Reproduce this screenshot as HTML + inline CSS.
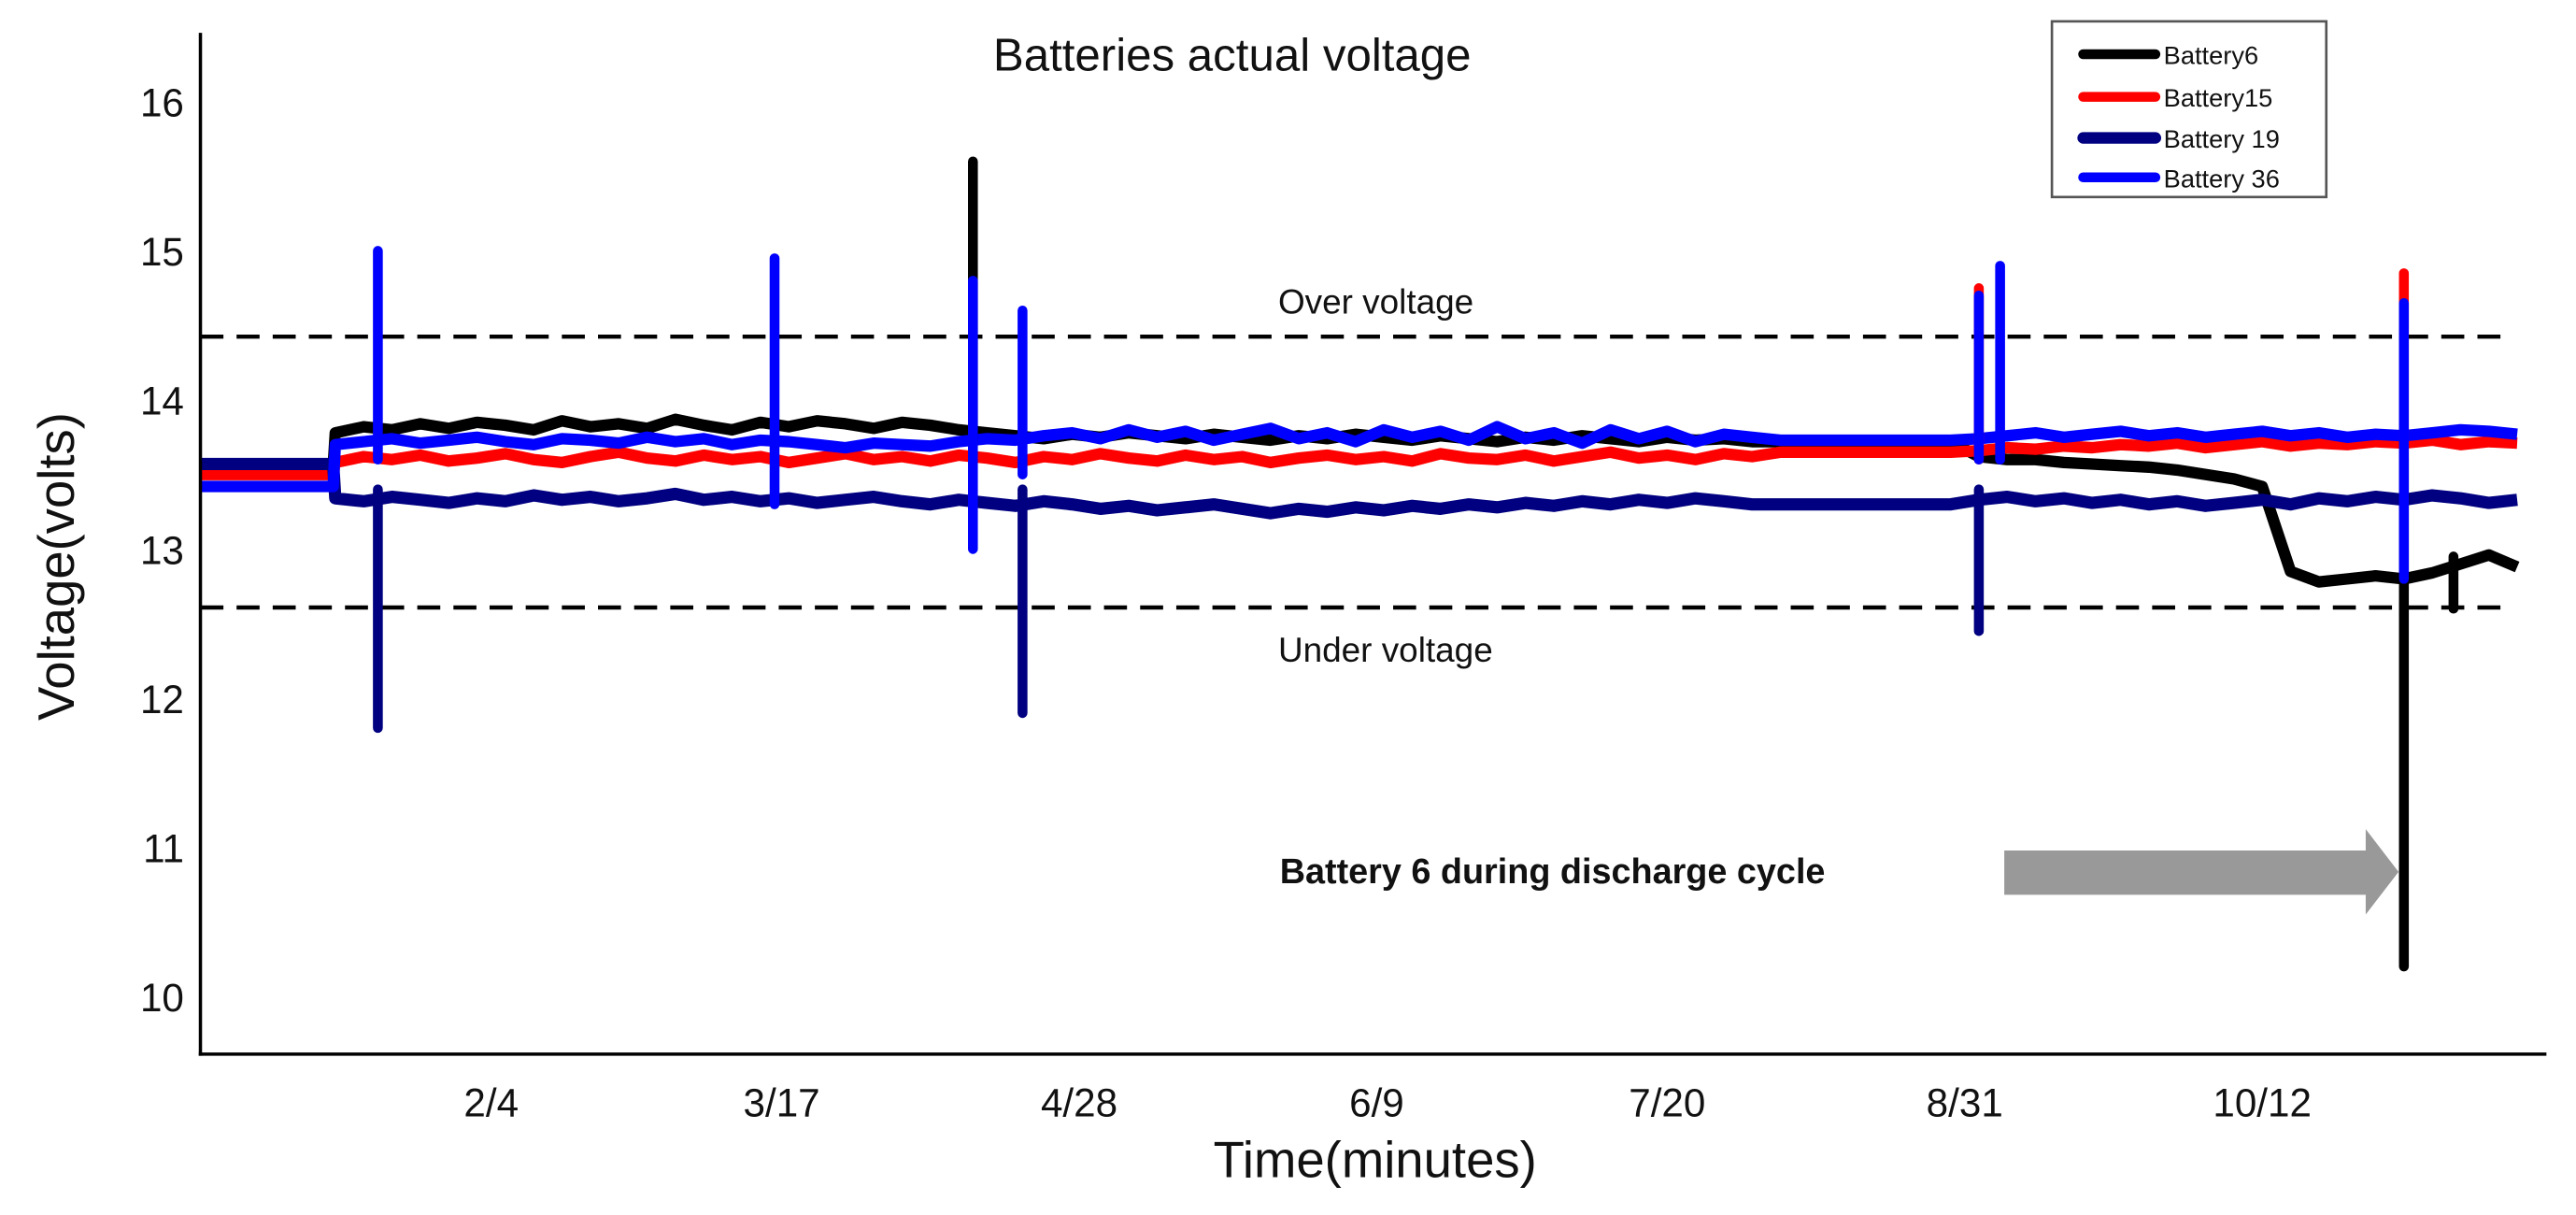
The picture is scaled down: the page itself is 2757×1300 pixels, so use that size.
<!DOCTYPE html>
<html><head><meta charset="utf-8"><style>
html,body{margin:0;padding:0;background:#fff;}
svg{display:block;}
text{font-family:"Liberation Sans",sans-serif;fill:#111;}
</style></head><body>
<svg id="chart" width="2757" height="1300" viewBox="0 0 1568 740" preserveAspectRatio="none" xmlns="http://www.w3.org/2000/svg">
<rect width="1568" height="740" fill="#fff"/>
<text x="750" y="43" font-size="28" text-anchor="middle">Batteries actual voltage</text>
<text transform="translate(45,345) rotate(-90)" font-size="31" text-anchor="middle">Voltage(volts)</text>
<text x="837" y="717" font-size="31" text-anchor="middle">Time(minutes)</text>
<g id="ticks"></g>
<line x1="122" y1="205" x2="1522" y2="205" stroke="#000" stroke-width="2.5" stroke-dasharray="14,8"/>
<line x1="122" y1="370" x2="1522" y2="370" stroke="#000" stroke-width="2.5" stroke-dasharray="14,8"/>
<text x="778" y="191" font-size="21">Over voltage</text>
<text x="778" y="403" font-size="21">Under voltage</text>
<g id="series"></g>
<line x1="122" y1="20" x2="122" y2="643" stroke="#000" stroke-width="2"/>
<line x1="121" y1="642" x2="1550" y2="642" stroke="#000" stroke-width="2"/>
<text x="779" y="538" font-size="21.5" font-weight="bold">Battery 6 during discharge cycle</text>
<polygon points="1220,518 1440,518 1440,505 1460,531 1440,557 1440,545 1220,545" fill="#999"/>
<g>
<rect x="1249" y="13" width="167" height="107" fill="#fff" stroke="#555" stroke-width="1.5"/>
<line x1="1268" y1="33" x2="1312" y2="33" stroke="#000" stroke-width="6" stroke-linecap="round"/>
<text x="1317" y="39" font-size="15.5">Battery6</text>
<line x1="1268" y1="59" x2="1312" y2="59" stroke="#f00" stroke-width="6" stroke-linecap="round"/>
<text x="1317" y="65" font-size="15.5">Battery15</text>
<line x1="1268" y1="84" x2="1312" y2="84" stroke="#000080" stroke-width="7" stroke-linecap="round"/>
<text x="1317" y="90" font-size="15.5">Battery 19</text>
<line x1="1268" y1="108" x2="1312" y2="108" stroke="#0000ff" stroke-width="6" stroke-linecap="round"/>
<text x="1317" y="114" font-size="15.5">Battery 36</text>
</g>
</svg>
<script>
const yTicks = [10, 11, 12, 13, 14, 15, 16];
const xTickLabels = ["2/4", "3/17", "4/28", "6/9", "7/20", "8/31", "10/12"];
const xTickDays = [35, 76, 118, 160, 201, 243, 285];
const startDays = [-6, 12.7];
const b6Start = [13.55, 13.55];
const b15Start = [13.5, 13.5];
const b19Start = [13.57, 13.57];
const b36Start = [13.42, 13.42];
const gridStartDay = 13;
const gridStepDays = 4;
const b6 = [13.78,13.82,13.80,13.84,13.81,13.85,13.83,13.80,13.86,13.82,13.84,13.81,13.87,13.83,13.80,13.85,13.82,13.86,13.84,13.81,13.85,13.83,13.80,13.78,13.76,
13.74,13.77,13.75,13.78,13.76,13.74,13.77,13.75,13.73,13.76,13.74,13.77,13.75,13.73,13.76,13.74,13.72,13.75,13.73,13.76,13.74,13.72,13.75,13.73,13.74,13.72,
13.72,13.72,13.72,13.72,13.72,13.72,13.72,
13.62,13.60,13.60,13.58,13.57,13.56,13.55,13.53,13.50,13.47,13.42,
12.85,12.78,12.80,12.82,12.80,12.84,12.90,12.96,12.88];
const b15 = [13.58,13.62,13.60,13.63,13.59,13.61,13.64,13.60,13.58,13.62,13.65,13.61,13.59,13.63,13.60,13.62,13.58,13.61,13.64,13.60,13.62,13.59,13.63,13.61,13.58,13.62,
13.60,13.64,13.61,13.59,13.63,13.60,13.62,13.58,13.61,13.63,13.60,13.62,13.59,13.64,13.61,13.60,13.63,13.59,13.62,13.65,13.61,13.63,13.60,13.64,13.62,
13.65,13.65,13.65,13.65,13.65,13.65,13.65,
13.66,13.68,13.67,13.69,13.68,13.70,13.69,13.71,13.68,13.70,13.72,13.69,13.71,13.70,13.72,13.71,13.73,13.70,13.72,13.71];
const b19 = [13.34,13.32,13.35,13.33,13.31,13.34,13.32,13.36,13.33,13.35,13.32,13.34,13.37,13.33,13.35,13.32,13.34,13.31,13.33,13.35,13.32,13.30,13.33,13.31,13.29,13.32,
13.30,13.27,13.29,13.26,13.28,13.30,13.27,13.24,13.27,13.25,13.28,13.26,13.29,13.27,13.30,13.28,13.31,13.29,13.32,13.30,13.33,13.31,13.34,13.32,13.30,
13.30,13.30,13.30,13.30,13.30,13.30,13.30,
13.33,13.35,13.32,13.34,13.31,13.33,13.30,13.32,13.29,13.31,13.33,13.30,13.34,13.32,13.35,13.33,13.36,13.34,13.31,13.33];
const b36 = [13.70,13.72,13.74,13.71,13.73,13.75,13.72,13.70,13.74,13.73,13.71,13.75,13.72,13.74,13.70,13.73,13.72,13.70,13.68,13.71,13.70,13.69,13.72,13.74,13.73,13.76,
13.78,13.74,13.80,13.75,13.79,13.73,13.77,13.81,13.74,13.78,13.72,13.80,13.75,13.79,13.73,13.82,13.74,13.78,13.71,13.80,13.74,13.79,13.72,13.77,13.75,
13.73,13.73,13.73,13.73,13.73,13.73,13.73,
13.74,13.76,13.78,13.75,13.77,13.79,13.76,13.78,13.75,13.77,13.79,13.76,13.78,13.75,13.77,13.76,13.78,13.80,13.79,13.77];
const b6SpikeDays = [103, 305, 312];
const b6SpikeLow = [13.7, 10.2, 12.6];
const b6SpikeHigh = [15.6, 13.6, 12.95];
const b15SpikeDays = [245, 305];
const b15SpikeLow = [13.6, 13.6];
const b15SpikeHigh = [14.75, 14.85];
const b19SpikeDays = [19, 110, 245];
const b19SpikeLow = [11.8, 11.9, 12.45];
const b19SpikeHigh = [13.4, 13.4, 13.4];
const b36SpikeDays = [19, 75, 103, 110, 245, 248, 305];
const b36SpikeLow = [13.6, 13.3, 13.0, 13.5, 13.6, 13.6, 12.8];
const b36SpikeHigh = [15.0, 14.95, 14.8, 14.6, 14.7, 14.9, 14.65];

const NS = "http://www.w3.org/2000/svg";
function xScale(d){ return 299 + (d - 35) * (1377 - 299) / (285 - 35); }
function yScale(v){ return 62 + (16 - v) * 90.8; }

const ticks = document.getElementById("ticks");
yTicks.forEach(v => {
  const t = document.createElementNS(NS, "text");
  
  
  t.setAttribute("x", 112); t.setAttribute("y", yScale(v) + 9);
  t.setAttribute("font-size", "24"); t.setAttribute("text-anchor", "end");
  t.textContent = v; ticks.appendChild(t);
});
xTickLabels.forEach((lab, i) => {
  const t = document.createElementNS(NS, "text");
  
  
  t.setAttribute("x", xScale(xTickDays[i])); t.setAttribute("y", 680);
  t.setAttribute("font-size", "24"); t.setAttribute("text-anchor", "middle");
  t.textContent = lab; ticks.appendChild(t);
});

const series = document.getElementById("series");
function drawSeries(name, color, width, start, vals){
  const pts = [];
  startDays.forEach((d, i) => pts.push(xScale(d).toFixed(1) + "," + yScale(start[i]).toFixed(1)));
  vals.forEach((v, i) => pts.push(xScale(gridStartDay + i * gridStepDays).toFixed(1) + "," + yScale(v).toFixed(1)));
  const p = document.createElementNS(NS, "polyline");
  
  
  p.setAttribute("points", pts.join(" "));
  p.setAttribute("fill", "none"); p.setAttribute("stroke", color);
  p.setAttribute("stroke-width", width); p.setAttribute("stroke-linejoin", "round");
  series.appendChild(p);
}
function drawSpikes(name, color, days, lo, hi){
  days.forEach((d, i) => {
    const l = document.createElementNS(NS, "line");
    
    
    l.setAttribute("x1", xScale(d)); l.setAttribute("x2", xScale(d));
    l.setAttribute("y1", yScale(lo[i])); l.setAttribute("y2", yScale(hi[i]));
    l.setAttribute("stroke", color); l.setAttribute("stroke-width", 6);
    l.setAttribute("stroke-linecap", "round");
    series.appendChild(l);
  });
}
drawSeries("battery6", "#000", 7, b6Start, b6);
drawSeries("battery15", "#f00", 7, b15Start, b15);
drawSeries("battery19", "#000080", 7.5, b19Start, b19);
drawSeries("battery36", "#0000ff", 7, b36Start, b36);
drawSpikes("battery6", "#000", b6SpikeDays, b6SpikeLow, b6SpikeHigh);
drawSpikes("battery15", "#f00", b15SpikeDays, b15SpikeLow, b15SpikeHigh);
drawSpikes("battery36", "#0000ff", b36SpikeDays, b36SpikeLow, b36SpikeHigh);
drawSpikes("battery19", "#000080", b19SpikeDays, b19SpikeLow, b19SpikeHigh);
</script>
</body></html>
